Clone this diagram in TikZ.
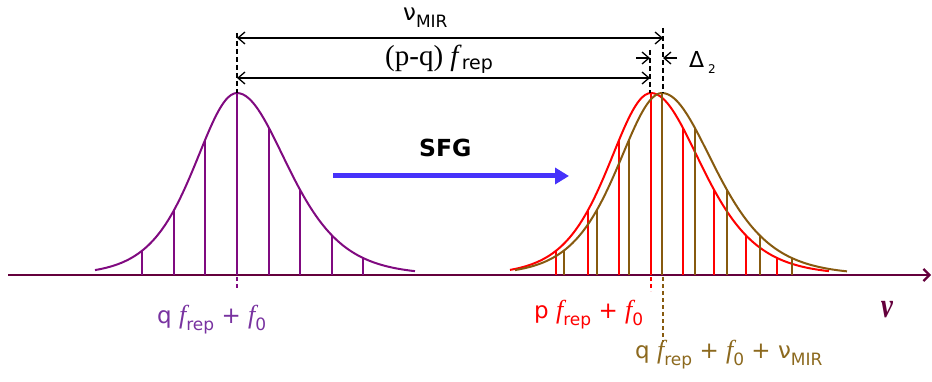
\documentclass[tikz,border=0pt]{standalone}
\usepackage{fontspec}
\setmainfont{Liberation Serif}
\newfontfamily\sansf{DejaVu Sans}
\usetikzlibrary{arrows.meta}
\definecolor{cpurple}{RGB}{128,10,128}
\definecolor{lpurple}{RGB}{120,50,160}
\definecolor{cred}{RGB}{255,0,0}
\definecolor{cbrown}{RGB}{135,90,15}
\definecolor{lbrown}{RGB}{140,105,30}
\definecolor{caxis}{RGB}{100,0,60}
\definecolor{cblue}{RGB}{70,50,250}
\tikzset{
  combline/.style={line width=2pt},
  dimarrow/.style={line width=1.3pt,{Straight Barb[length=7pt,width=12pt]}-{Straight Barb[length=7pt,width=12pt]}},
  deltaarrow/.style={line width=1.3pt,-{Straight Barb[length=7pt,width=12pt]}},
  blackdash/.style={line width=1.2pt,dash pattern=on 5pt off 3pt},
  lbl/.style={font=\sansf\fontsize{23}{25}\selectfont,inner sep=0pt,anchor=base west},
}
\newcommand{\ff}{{\rmfamily\itshape\fontsize{26}{28}\selectfont f}}
\newcommand{\lsub}[1]{\raisebox{-7pt}{\sansf\fontsize{17}{19}\selectfont #1}}
% comb: #1 center x, #2 spacing, #3 left width, #4 right width, #5 color, #6 left extent, #7 right extent
\newcommand{\combdraw}[7]{%
  \draw[combline,#5] plot[domain=-#6:0,samples=50,smooth] ({#1+\x},{275-182*4/(exp(\x/#3)+exp(-\x/#3))^2})
     -- plot[domain=0:#7,samples=60,smooth] ({#1+\x},{275-182*4/(exp(\x/#4)+exp(-\x/#4))^2});
  \foreach \k in {-3,...,-1}{%
    \pgfmathsetmacro\xx{round(\k*#2)}%
    \pgfmathsetmacro\hh{275-182*4/(exp(\xx/#3)+exp(-\xx/#3))^2}%
    \draw[combline,#5] ({#1+\xx},275) -- ({#1+\xx},\hh);}
  \foreach \k in {0,...,4}{%
    \pgfmathsetmacro\xx{round(\k*#2)}%
    \pgfmathsetmacro\hh{275-182*4/(exp(\xx/#4)+exp(-\xx/#4))^2}%
    \draw[combline,#5] ({#1+\xx},275) -- ({#1+\xx},\hh);}
}
\begin{document}
\begin{tikzpicture}[x=1pt,y=-1pt]
\useasboundingbox (0,0) rectangle (932,382);
% axis
\coordinate (axL) at (8,275);
\coordinate (axR) at (931,275);
\draw[line width=2.2pt,caxis,-{Straight Barb[length=6pt,width=12pt]}] (axL) -- (axR);
% combs
\combdraw{237}{31.5}{57}{68}{cpurple}{142}{178}
\combdraw{651}{31.5}{57}{68}{cred}{141}{178}
\combdraw{662}{32.5}{59}{70}{cbrown}{147}{185}
% dashed markers
\coordinate (qtop) at (237,33);
\coordinate (qpk) at (237,93);
\coordinate (ptop) at (650,50);
\coordinate (ppk) at (650,93);
\coordinate (btop) at (663,28);
\coordinate (bpk) at (663,93);
\draw[blackdash] (qtop) -- (qpk);
\draw[blackdash] (ptop) -- (ppk);
\draw[blackdash] (btop) -- (bpk);
\coordinate (qb0) at (237,277);
\coordinate (qb1) at (237,288);
\draw[line width=1.4pt,cpurple,dash pattern=on 4pt off 3pt] (qb0) -- (qb1);
\coordinate (pb0) at (651,277);
\coordinate (pb1) at (651,291);
\draw[line width=1.4pt,cred,dash pattern=on 4pt off 3pt] (pb0) -- (pb1);
\coordinate (bb0) at (663,277);
\coordinate (bb1) at (663,342);
\draw[line width=1.4pt,cbrown,dash pattern=on 4pt off 3pt] (bb0) -- (bb1);
% dimension arrows
\coordinate (m1) at (237,38);
\coordinate (m2) at (663,38);
\draw[dimarrow] (m1) -- (m2);
\coordinate (r1) at (237,78);
\coordinate (r2) at (650,78);
\draw[dimarrow] (r1) -- (r2);
\coordinate (d1) at (636,58);
\coordinate (d1e) at (650,58);
\coordinate (d2) at (677,58);
\coordinate (d2e) at (663,58);
\draw[deltaarrow] (d1) -- (d1e);
\draw[deltaarrow] (d2) -- (d2e);
% labels
\node[inner sep=0pt,anchor=base west,font=\sansf\fontsize{23}{25}\selectfont] (numir) at (403,21) {ν\raisebox{-7pt}{\fontsize{17}{19}\selectfont MIR}};
\node[inner sep=0pt,anchor=base west,font=\fontsize{29}{31}\selectfont] (pq) at (385,66) {(p-q) \textit{f}\raisebox{-4pt}{\sansf\fontsize{19}{21}\selectfont rep}};
\node[anchor=base west,inner sep=0pt,font=\sansf\fontsize{22}{24}\selectfont] (delta) at (689,68) {Δ\raisebox{-6pt}{\fontsize{12}{14}\selectfont\ 2}};
\node[font=\sansf\bfseries\fontsize{23.5}{25}\selectfont,inner sep=0pt,anchor=base west] (sfg) at (419,157) {SFG};
\coordinate (sa) at (333,176);
\coordinate (sb) at (569,176);
\draw[line width=5pt,cblue,-{Triangle[length=14pt,width=16pt]}] (sa) -- (sb);
\node[lbl,text=lpurple] (ql) at (157,323) {q \ff\lsub{rep} + \ff\lsub{0}};
\node[lbl,text=cred] (pl) at (534,318) {p \ff\lsub{rep} + \ff\lsub{0}};
\node[lbl,text=lbrown] (bl) at (635,358) {q \ff\lsub{rep} + \ff\lsub{0} + ν\lsub{MIR}};
\node[text=caxis,inner sep=0pt,anchor=base,font=\rmfamily\bfseries\itshape\fontsize{32}{34}\selectfont] (nu) at (887,317) {\scalebox{0.85}[1.1]{ν}};
\end{tikzpicture}
\end{document}
